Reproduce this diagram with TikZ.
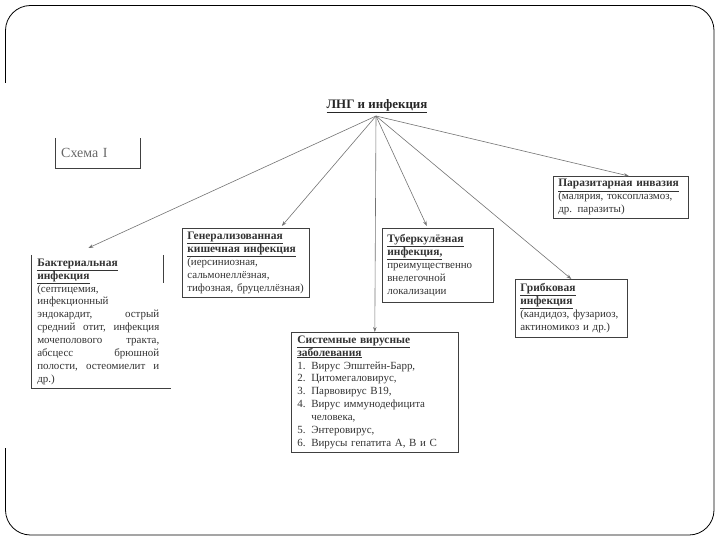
\documentclass[tikz,border=0pt]{standalone}
\usepackage{fontspec}
\setmainfont{Liberation Serif}
\usetikzlibrary{arrows.meta,calc}
\setlength{\parindent}{0pt}
\newcommand{\js}{\hspace{0pt plus 1filll}}
\newcommand{\hd}[1]{\underline{\fontsize{11.5}{13}\selectfont\textbf{#1}}}
\newcommand{\nm}[1]{\makebox[14bp][l]{#1}}
\begin{document}
\begin{tikzpicture}[x=1bp,y=-1bp,
  box/.style={draw=black!75, line width=0.6bp, anchor=north west, align=left,
    inner xsep=5bp, inner ysep=1.5bp, font=\fontsize{11}{13}\selectfont, text=black!80},
  edge/.style={draw=black!75, line width=0.6bp},
  conn/.style={draw=black!55, line width=0.6bp, -{Stealth[length=5bp,width=3.5bp]}}]
\useasboundingbox (0,0) rectangle (720,540);
\draw[line width=0.8bp, rounded corners=25bp] (5.5,83) -- (5.5,5.5) -- (714,5.5) -- (714,535) -- (5.5,535) -- (5.5,448);

\node[font=\fontsize{13}{15}\selectfont, text=black!85] (title) at (377,106) {\underline{\textbf{ЛНГ и инфекция}}};
\coordinate (hub) at (376,116);

\node[anchor=north west, minimum width=85bp, minimum height=30bp, text width=73bp,
  inner xsep=6bp, align=left, font=\fontsize{14}{16}\selectfont, text=black!60] (schema) at (55,138) {Схема I};
\draw[edge] (schema.north west) -- (schema.south west) -- (schema.south east) -- (schema.north east);

\node[box, draw=none, inner xsep=6bp, text width=122bp, minimum height=133bp] (bact) at (31,255)
  {\hd{Бактериальная}\\ \hd{инфекция}\\ (септицемия,\\ инфекционный\\
   эндокардит,\js острый\\ средний\js отит,\js инфекция\\
   мочеполового\js тракта,\\ абсцесс\js брюшной\\
   полости,\js остеомиелит\js и\\ др.)};
\draw[edge] (bact.north west) -- (bact.south west) -- ($(bact.south east)+(5,0)$);
\draw[edge] ($(bact.north east)+(-2,0)$) -- ($(bact.north east)+(-2,28)$);

\node[box, text width=117bp, minimum height=69bp] (gen) at (182,228)
  {\hd{Генерализованная}\\ \hd{кишечная инфекция}\\ (иерсиниозная,\\ сальмонеллёзная,\\ тифозная, бруцеллёзная)};

\node[box, text width=101bp, minimum height=74bp] (tub) at (382,228)
  {\hd{Туберкулёзная}\\ \hd{инфекция,}\\ преимущественно\\ внелегочной\\ локализации};

\node[box, text width=125bp, minimum height=42bp] (par) at (553,176)
  {\hd{Паразитарная инвазия}\\ (малярия, токсоплазмоз,\\ др. паразиты)};

\node[box, text width=102bp, minimum height=58bp] (fun) at (515,279)
  {\hd{Грибковая}\\ \hd{инфекция}\\ (кандидоз, фузариоз,\\ актиномикоз и др.)};

\node[box, inner xsep=6bp, text width=155bp, minimum height=120bp] (vir) at (291,332)
  {\hd{Системные вирусные}\\ \hd{заболевания}\\ \nm{1.}Вирус Эпштейн-Барр,\\ \nm{2.}Цитомегаловирус,\\
   \nm{3.}Парвовирус B19,\\ \nm{4.}Вирус иммунодефицита\\ \hspace*{14bp}человека,\\
   \nm{5.}Энтеровирус,\\ \nm{6.}Вирусы гепатита А, В и С};

\draw[conn] (hub) -- ($(bact.north)+(-10,-7)$);
\draw[conn] (hub) -- ($(gen.north)+(36,-2)$);
\draw[conn] (hub) -- ($(tub.north)+(-11,-2)$);
\draw[conn] (hub) -- (vir.north);
\draw[conn] (hub) -- (fun.north);
\draw[conn] (hub) -- ($(par.north)+(8,0)$);
\end{tikzpicture}
\end{document}
